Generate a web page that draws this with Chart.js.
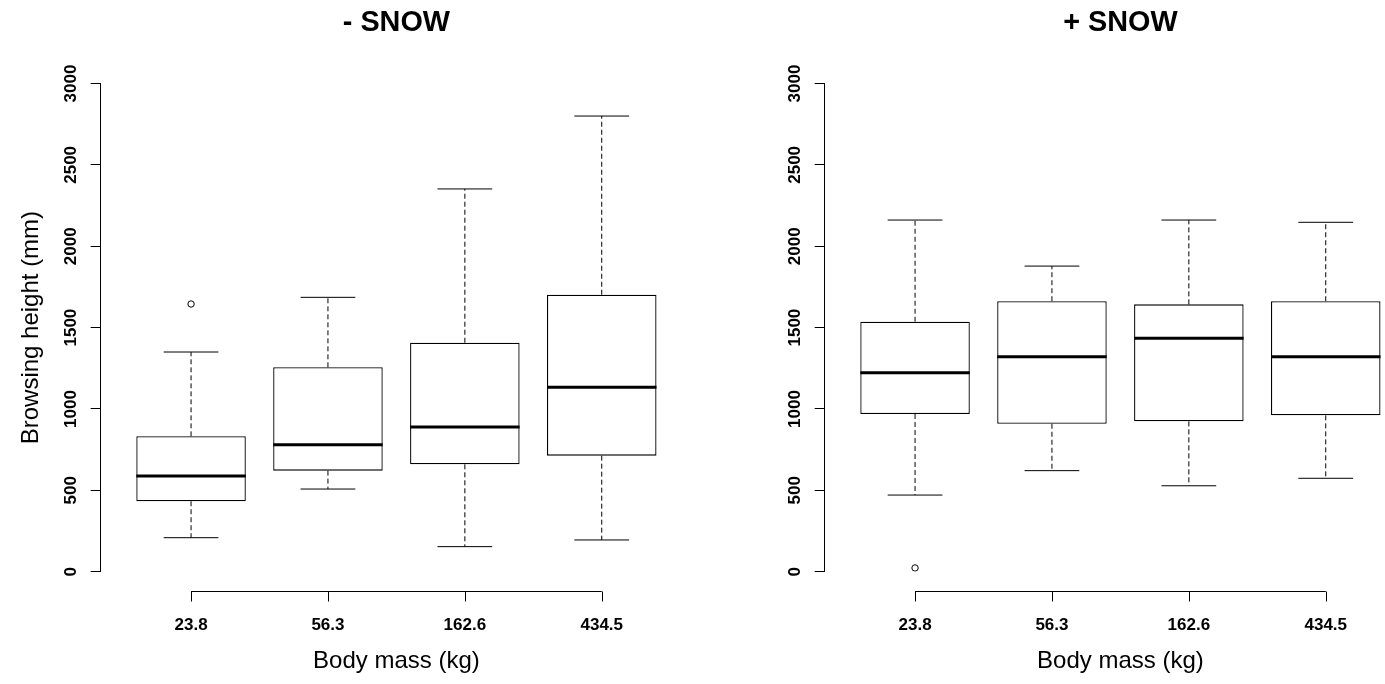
<!DOCTYPE html>
<html>
<head>
<meta charset="utf-8">
<script src="https://cdn.jsdelivr.net/npm/chart.js@4.4.1/dist/chart.umd.min.js"></script>
<style>
  html, body { margin: 0; padding: 0; background: #fff; overflow: hidden; }
  #wrap { position: relative; width: 1385px; height: 684px; overflow: hidden; }
  canvas { position: absolute; top: 0; }
</style>
</head>
<body>
<div id="wrap">
  <canvas id="no-snow" width="724" height="684" style="left:0"></canvas>
  <canvas id="snow" width="724" height="684" style="left:724px"></canvas>
</div>
<script>
// categories and axis ticks
const massLabels = ['23.8', '56.3', '162.6', '434.5'];
const yTicks = [0, 500, 1000, 1500, 2000, 2500, 3000];
const yLim = [0, 3000];

// - SNOW : five-number summaries (mm)
const noSnowLow = [209, 508, 154, 195];
const noSnowQ1 = [433, 621, 660, 713];
const noSnowMed = [588, 780, 889, 1133];
const noSnowQ3 = [832, 1256, 1407, 1702];
const noSnowHigh = [1350, 1686, 2352, 2800];
const noSnowOut = [[1645], [], [], []];

// + SNOW
const snowLow = [471, 621, 528, 574];
const snowQ1 = [969, 909, 924, 961];
const snowMed = [1223, 1321, 1434, 1321];
const snowQ3 = [1536, 1662, 1643, 1662];
const snowHigh = [2161, 1878, 2161, 2147];
const snowOut = [[23], [], [], []];

const FONT = '"Liberation Sans", Arial, Helvetica, sans-serif';
Chart.defaults.font.family = FONT;
Chart.defaults.color = '#000';

// R style x axis: line between first and last tick, sitting at the padded plot edge
const massAxis = {
    id: 'massAxis',
    afterDraw(chart) {
        const { ctx, scales: { x, y } } = chart;
        const pad = 0.04 * (yLim[1] - yLim[0]);
        const yAxis = Math.round(y.getPixelForValue(yLim[0] - pad)) + 0.5;
        const first = x.getPixelForValue(1);
        const last = x.getPixelForValue(massLabels.length);
        ctx.save();
        ctx.strokeStyle = '#000';
        ctx.lineWidth = 1;
        ctx.beginPath();
        ctx.moveTo(first, yAxis);
        ctx.lineTo(last, yAxis);
        massLabels.forEach((lab, i) => {
            const px = Math.round(x.getPixelForValue(i + 1)) + 0.5;
            ctx.moveTo(px, yAxis);
            ctx.lineTo(px, yAxis + 10);
        });
        ctx.stroke();
        ctx.fillStyle = '#000';
        ctx.font = 'bold 17px ' + FONT;
        ctx.textAlign = 'center';
        ctx.textBaseline = 'alphabetic';
        massLabels.forEach((lab, i) => {
            ctx.fillText(lab, x.getPixelForValue(i + 1), yAxis + 38);
        });
        ctx.restore();
    }
};

function makeBoxplot(canvasId, title, low, q1, med, q3, high, out, yTitle) {
    const half = 0.4;     // boxwex 0.8
    const staple = 0.2;   // staplewex 0.5
    const medians = [], whiskers = [], staples = [], outliers = [];

    massLabels.forEach((lab, i) => {
        const p = i + 1;
        medians.push({ x: p - half, y: med[i] }, { x: p + half, y: med[i] }, { x: p, y: null });
        whiskers.push({ x: p, y: q3[i] }, { x: p, y: high[i] }, { x: p, y: null },
                      { x: p, y: q1[i] }, { x: p, y: low[i] }, { x: p, y: null });
        staples.push({ x: p - staple, y: high[i] }, { x: p + staple, y: high[i] }, { x: p, y: null },
                     { x: p - staple, y: low[i] }, { x: p + staple, y: low[i] }, { x: p, y: null });
        out[i].forEach(v => outliers.push({ x: p, y: v }));
    });

    const xPad = 0.04 * massLabels.length;

    return new Chart(document.getElementById(canvasId), {
        type: 'bar',
        data: {
            datasets: [
                {
                    type: 'line', label: 'median', data: medians, order: 0,
                    borderColor: '#000', borderWidth: 3, borderCapStyle: 'butt',
                    pointRadius: 0, fill: false, spanGaps: false
                },
                {
                    type: 'scatter', label: 'outliers', data: outliers, order: 1,
                    pointStyle: 'circle', pointRadius: 3.2, pointBorderWidth: 1,
                    pointBorderColor: '#000', pointBackgroundColor: '#fff'
                },
                {
                    type: 'line', label: 'staples', data: staples, order: 2,
                    borderColor: '#000', borderWidth: 1, pointRadius: 0, fill: false, spanGaps: false
                },
                {
                    type: 'line', label: 'whiskers', data: whiskers, order: 3,
                    borderColor: '#000', borderWidth: 1, borderDash: [5, 3],
                    pointRadius: 0, fill: false, spanGaps: false
                },
                {
                    type: 'bar', label: 'IQR', order: 4,
                    data: q1.map((v, i) => ({ x: i + 1, y: [v, q3[i]] })),
                    backgroundColor: '#fff', borderColor: '#000', borderWidth: 1.3,
                    borderSkipped: false, barPercentage: 0.8, categoryPercentage: 1
                }
            ]
        },
        options: {
            responsive: false,
            animation: false,
            devicePixelRatio: 1,
            events: [],
            layout: { padding: { top: 0, left: 0, bottom: 0, right: 31.9 } },
            plugins: {
                legend: { display: false },
                tooltip: { enabled: false },
                title: {
                    display: true,
                    text: title,
                    fullSize: false,
                    color: '#000',
                    font: { size: 28.8, weight: 'bold' },
                    padding: { top: 6, bottom: 42.94 }
                }
            },
            scales: {
                x: {
                    type: 'linear',
                    min: 0.5 - xPad,
                    max: massLabels.length + 0.5 + xPad,
                    offset: false,
                    // one tick per group so the bar width follows the group spacing
                    afterBuildTicks: s => { s.ticks = massLabels.map((lab, i) => ({ value: i + 1 })); },
                    afterFit: s => { s.height = 112.3; },
                    grid: { display: false },
                    border: { display: false },
                    ticks: { display: false },
                    title: {
                        display: true,
                        text: 'Body mass (kg)',
                        color: '#000',
                        font: { size: 24 },
                        padding: { top: 0, bottom: 7.9 }
                    }
                },
                y: {
                    type: 'linear',
                    min: yLim[0],
                    max: yLim[1],
                    afterBuildTicks: s => { s.ticks = yTicks.map(v => ({ value: v })); },
                    afterFit: s => { s.width = 100.7; },
                    border: { display: true, color: '#000', width: 1 },
                    grid: {
                        display: true, drawOnChartArea: false, drawTicks: true,
                        tickLength: 10, color: '#000', lineWidth: 1
                    },
                    ticks: {
                        minRotation: 90, maxRotation: 90, crossAlign: 'center', padding: 0,
                        color: '#000', font: { size: 17, weight: 'bold' },
                        callback: v => String(v)
                    },
                    title: {
                        display: !!yTitle,
                        text: yTitle || '',
                        color: '#000',
                        font: { size: 24 },
                        padding: { top: 17, bottom: 0 }
                    }
                }
            }
        },
        plugins: [massAxis]
    });
}

makeBoxplot('no-snow', '- SNOW', noSnowLow, noSnowQ1, noSnowMed, noSnowQ3, noSnowHigh, noSnowOut, 'Browsing height (mm)');
makeBoxplot('snow', '+ SNOW', snowLow, snowQ1, snowMed, snowQ3, snowHigh, snowOut, null);
</script>
</body>
</html>
